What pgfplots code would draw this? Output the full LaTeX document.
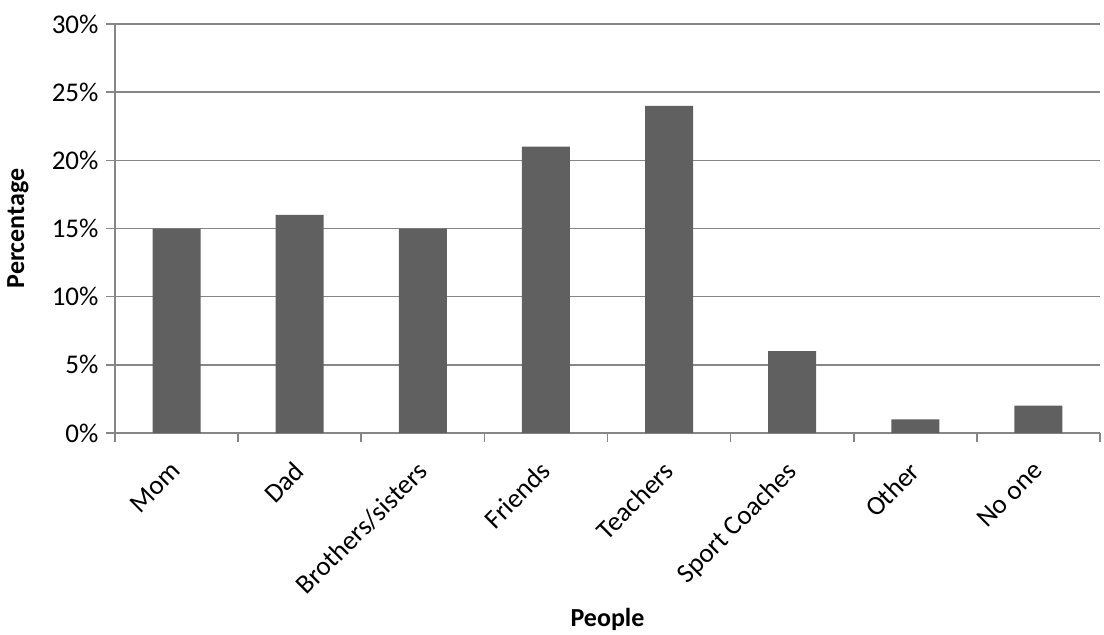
\documentclass[border=0pt]{standalone}
\usepackage{fontspec}
\setmainfont{Carlito}
\usepackage{pgfplots}
\pgfplotsset{compat=1.18}
\definecolor{barc}{RGB}{96,96,96}
\definecolor{gridc}{RGB}{134,134,134}
\begin{document}
\begin{tikzpicture}
\begin{axis}[
  at={(0pt,0pt)}, anchor=south west,
  scale only axis, width=985pt, height=409pt,
  xmin=0.5, xmax=8.5, ymin=0, ymax=30,
  axis x line*=bottom, axis y line*=left,
  axis line style={draw=gridc, line width=1.5pt},
  ymajorgrids, grid style={draw=gridc, line width=1.5pt},
  ytick={0,5,...,30},
  yticklabel={\pgfmathprintnumber{\tick}\%},
  /pgf/number format/assume math mode=true,
  xtick={1,...,8},
  xticklabels={Mom,Dad,Brothers/sisters,Friends,Teachers,Sport Coaches,Other,No one},
  major x tick style={draw=none},
  minor xtick={0.5,1.5,...,8.5},
  minor x tick style={draw=gridc, line width=1.5pt},
  minor tick length=9pt,
  major y tick style={draw=gridc, line width=1.5pt},
  major tick length=9pt,
  tick align=outside,
  tick label style={font=\fontsize{27}{31}\selectfont},
  x tick label style={xshift=-7pt, yshift=-16.5pt, rotate=45, anchor=north east, inner sep=1pt},
  y tick label style={xshift=-4pt},
  xlabel={\textbf{People}}, ylabel={\textbf{Percentage}},
  label style={font=\fontsize{26}{30}\selectfont},
  xlabel style={at={(axis description cs:0.5,-0.455)}, anchor=center},
  ylabel style={at={(axis description cs:-0.0985,0.5)}, anchor=center},
  ybar, bar width=48pt,
]
\addplot[fill=barc, draw=none] coordinates {(1,15) (2,16) (3,15) (4,21) (5,24) (6,6) (7,1) (8,2)};
\end{axis}
\path (-115pt,-202pt) rectangle (989pt,433pt);
\end{tikzpicture}
\end{document}
